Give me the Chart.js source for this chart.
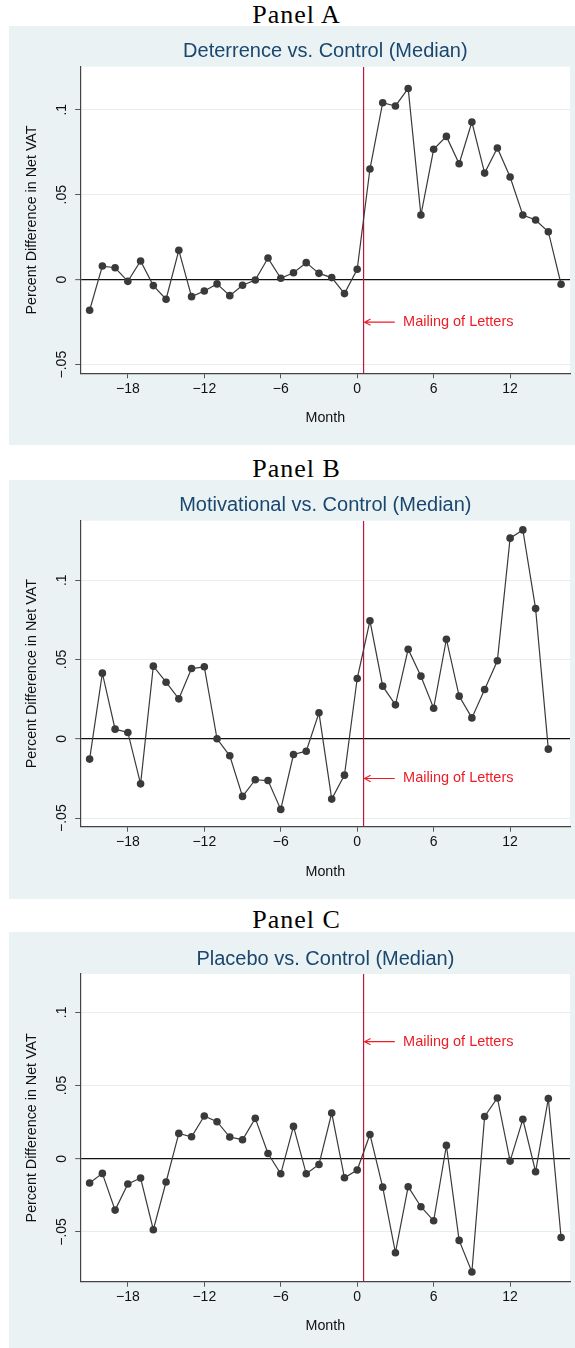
<!DOCTYPE html>
<html>
<head>
<meta charset="utf-8">
<script src="https://cdn.jsdelivr.net/npm/chart.js@4.4.1/dist/chart.umd.min.js"></script>
<style>
  body { margin: 0; width: 575px; height: 1348px; background: #fff; position: relative; overflow: hidden; }
  .panel-label { position: absolute; left: 0; width: 593px; text-align: center; font-family: "Liberation Serif", serif; font-size: 26px; letter-spacing: 1px; line-height: 1; color: #000; }
  canvas { position: absolute; left: 9px; background: #eaf2f3; }
</style>
</head>
<body>
<div class="panel-label" style="top:2px">Panel A</div>
<canvas id="chartA" width="566" height="419" style="top:26px"></canvas>
<div class="panel-label" style="top:456px">Panel B</div>
<canvas id="chartB" width="566" height="419" style="top:480px"></canvas>
<div class="panel-label" style="top:907px">Panel C</div>
<canvas id="chartC" width="566" height="416" style="top:932px"></canvas>

<script>
// months relative to the mailing of the letters
const months = [-21, -20, -19, -18, -17, -16, -15, -14, -13, -12, -11, -10, -9, -8, -7, -6, -5, -4, -3, -2, -1, 0,
  1, 2, 3, 4, 5, 6, 7, 8, 9, 10, 11, 12, 13, 14, 15, 16];

// percent difference in net VAT (treatment vs. control, median)
const deterrence = [-0.018, 0.008, 0.007, -0.001, 0.011, -0.0035, -0.0115, 0.0173, -0.010, -0.0067, -0.0025,
  -0.0094, -0.0033, -0.0002, 0.0127, 0.0008, 0.0041, 0.010, 0.0037, 0.0012, -0.0082, 0.0061,
  0.0651, 0.1041, 0.1022, 0.1125, 0.038, 0.0767, 0.0843, 0.0682, 0.0927, 0.0627, 0.0775, 0.0604,
  0.038, 0.0351, 0.0282, -0.0027];
const motivational = [-0.0128, 0.0414, 0.0061, 0.004, -0.0284, 0.0458, 0.0357, 0.0252, 0.0443, 0.0454, 0,
  -0.0107, -0.0363, -0.0258, -0.0263, -0.0445, -0.0099, -0.0078, 0.0164, -0.038, -0.0229, 0.038,
  0.0744, 0.0332, 0.0214, 0.0565, 0.0395, 0.0193, 0.0628, 0.0269, 0.0132, 0.0311, 0.0492, 0.1265,
  0.1317, 0.0821, -0.0065];
const placebo = [-0.0166, -0.01, -0.0351, -0.0173, -0.0132, -0.0485, -0.0159, 0.0173, 0.015, 0.0292, 0.0253,
  0.0148, 0.013, 0.0276, 0.0036, -0.0103, 0.0221, -0.0103, -0.0039, 0.0312, -0.013, -0.0077,
  0.0166, -0.0194, -0.0642, -0.0191, -0.0328, -0.0424, 0.0091, -0.0558, -0.0774, 0.0289, 0.0415,
  -0.0016, 0.0269, -0.0089, 0.0412, -0.0538];

const xTicks = [-18, -12, -6, 0, 6, 12];
const yTicks = [-0.05, 0, 0.05, 0.1];

// letters were mailed between month 0 and month 1
const mailingMonth = 0.5;
const mailingLabel = 'Mailing of Letters';

const SANS = '"Liberation Sans", Arial, Helvetica, sans-serif';
const MINUS = '\u2212';

function fmtX(v) {
  return v < 0 ? MINUS + Math.abs(v) : String(v);
}

function fmtY(v) {
  if (v === 0) return '0';
  const s = String(Math.abs(v)).replace(/^0\./, '.');
  return v < 0 ? MINUS + s : s;
}

// white plot region + panel title centred on the plot region
const plotBackground = {
  id: 'plotBackground',
  beforeDraw(chart, args, opts) {
    const { ctx, chartArea: a } = chart;
    ctx.save();
    ctx.fillStyle = '#ffffff';
    ctx.fillRect(a.left, a.top, a.right - a.left, a.bottom - a.top);
    ctx.font = '20px ' + SANS;
    ctx.fillStyle = '#1a476f';
    ctx.textAlign = 'center';
    ctx.textBaseline = 'middle';
    ctx.fillText(opts.title, (a.left + a.right) / 2, a.top - 15);
    ctx.restore();
  }
};

// arrow and text pointing at the mailing line
const mailingNote = {
  id: 'mailingNote',
  afterDatasetsDraw(chart, args, opts) {
    const { ctx, scales: { x, y } } = chart;
    const py = y.getPixelForValue(opts.y);
    const head = x.getPixelForValue(mailingMonth) + 1;
    const tail = x.getPixelForValue(2.95);
    ctx.save();
    ctx.strokeStyle = '#ee1c25';
    ctx.lineWidth = 1.1;
    ctx.beginPath();
    ctx.moveTo(tail, py);
    ctx.lineTo(head, py);
    ctx.moveTo(head + 6, py - 3.2);
    ctx.lineTo(head, py);
    ctx.lineTo(head + 6, py + 3.2);
    ctx.stroke();
    ctx.font = '14.5px ' + SANS;
    ctx.fillStyle = '#ee1c25';
    ctx.textAlign = 'left';
    ctx.textBaseline = 'middle';
    ctx.fillText(mailingLabel, x.getPixelForValue(3.6), py);
    ctx.restore();
  }
};

function makePanel(id, title, values, yMin, yMax, noteY, xAxisHeight, padTop, monthPad) {
  const points = values.map((v, i) => ({ x: months[i], y: v }));
  return new Chart(document.getElementById(id), {
    type: 'line',
    data: {
      datasets: [{
        data: points,
        borderColor: '#3a3a3a',
        backgroundColor: '#3a3a3a',
        borderWidth: 1.2,
        pointRadius: 3.8,
        pointBorderWidth: 0,
        tension: 0
      }, {
        data: [{ x: mailingMonth, y: yMin }, { x: mailingMonth, y: yMax }],
        borderColor: '#c0143c',
        borderWidth: 1.2,
        pointRadius: 0
      }]
    },
    options: {
      responsive: false,
      animation: false,
      devicePixelRatio: 1,
      layout: { padding: { top: padTop, right: 5, bottom: 0, left: 0 } },
      plugins: {
        legend: { display: false },
        tooltip: { enabled: false },
        plotBackground: { title: title },
        mailingNote: { y: noteY }
      },
      scales: {
        x: {
          type: 'linear',
          min: -21.7,
          max: 16.7,
          afterBuildTicks: axis => { axis.ticks = xTicks.map(v => ({ value: v })); },
          afterFit: axis => { axis.height = xAxisHeight; },
          ticks: { callback: fmtX, color: '#111', font: { family: SANS, size: 14 }, padding: 2, maxRotation: 0 },
          grid: { drawOnChartArea: false, drawTicks: true, tickLength: 5, tickColor: '#555', tickWidth: 1 },
          border: { display: true, color: '#444', width: 1.2 },
          title: { display: true, text: 'Month', color: '#111', font: { family: SANS, size: 14.3 },
                   padding: { top: 0, bottom: monthPad } }
        },
        y: {
          type: 'linear',
          min: yMin,
          max: yMax,
          afterBuildTicks: axis => { axis.ticks = yTicks.map(v => ({ value: v })); },
          afterFit: axis => { axis.width = 71.7; },
          ticks: { callback: fmtY, color: '#111', font: { family: SANS, size: 14 }, minRotation: 90, maxRotation: 90,
                   crossAlign: 'center', padding: -1 },
          grid: {
            color: c => (c.tick && c.tick.value === 0) ? '#111' : '#e4eef0',
            lineWidth: c => (c.tick && c.tick.value === 0) ? 1.3 : 1,
            tickLength: 5.5, tickColor: '#555', tickWidth: 1
          },
          border: { display: true, color: '#444', width: 1.2 },
          title: { display: true, text: 'Percent Difference in Net VAT', color: '#111',
                   font: { family: SANS, size: 14.3 }, padding: { top: 14.4, bottom: 0 } }
        }
      }
    },
    plugins: [plotBackground, mailingNote]
  });
}

makePanel('chartA', 'Deterrence vs. Control (Median)', deterrence, -0.0551, 0.1253, -0.025, 71.7, 40.7, 18.4);
makePanel('chartB', 'Motivational vs. Control (Median)', motivational, -0.0554, 0.1375, -0.025, 72.3, 40.7, 18.7);
makePanel('chartC', 'Placebo vs. Control (Median)', placebo, -0.084, 0.1262, 0.08, 66.3, 42, 13.4);
</script>
</body>
</html>
